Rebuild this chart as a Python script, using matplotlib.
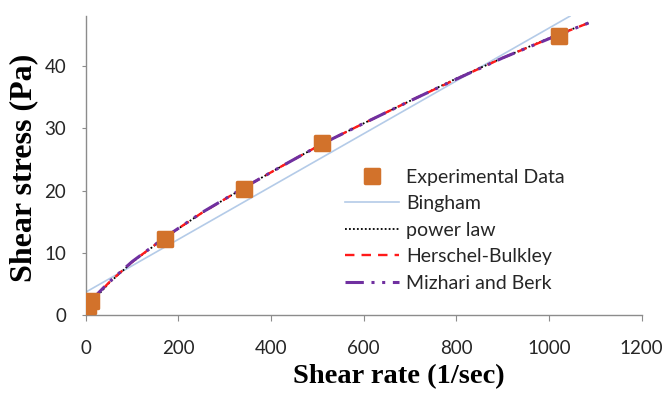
import matplotlib.pyplot as plt
from matplotlib.markers import MarkerStyle

# experimental points (Fann readings converted)
shear_rate = [5.11, 10.22, 170.3, 340.6, 510.9, 1021.8]
shear_stress = [1.5, 2.2, 12.3, 20.2, 27.6, 44.8]

# model curves
bingham_x = [0, 1045]
bingham_y = [3.7, 48.0]

curve_x = [12, 25, 50, 100, 170, 250, 340, 425, 510, 600, 700, 800, 900, 1020, 1085]
power_y = [2.3, 3.1, 5.15, 8.5, 12.4, 16.4, 20.4, 24.0, 27.5, 30.8, 34.4, 38.0, 41.3, 45.1, 46.9]
hb_y = [2.5, 3.3, 5.25, 8.55, 12.45, 16.4, 20.4, 24.0, 27.5, 30.8, 34.4, 37.9, 41.3, 45.0, 46.9]
mb_y = [2.6, 3.4, 5.3, 8.6, 12.45, 16.45, 20.4, 24.0, 27.5, 30.8, 34.4, 37.9, 41.3, 45.0, 46.9]

xticks = [0, 200, 400, 600, 800, 1000, 1200]
yticks = [0, 10, 20, 30, 40]

fig = plt.figure(figsize=(6.65, 3.94), dpi=100)
ax = fig.add_axes((0.129, 0.2, 0.836, 0.759))

ax.plot(bingham_x, bingham_y, color='#B4CBE8', lw=1.2, label='Bingham')
ax.plot(curve_x, power_y, color='black', lw=1.3, ls=(0, (1, 1.2)), label='power law')
ax.plot(curve_x, hb_y, color='#FF1A1A', lw=1.7, ls=(0, (4, 3)), label='Herschel-Bulkley')
ax.plot(curve_x, mb_y, color='#7030A0', lw=2.2, ls=(0, (6, 2.5, 1, 2.5, 1, 2.5)),
        label='Mizhari and Berk')
sq = MarkerStyle('s', joinstyle='round')
ax.plot(shear_rate, shear_stress, ls='none', marker=sq, ms=10, mew=2.5,
        color='#D2722B', mec='#D2722B', label='Experimental Data', zorder=5)

ax.set_xlim(0, 1200)
ax.set_ylim(0, 48)
ax.set_xticks(xticks)
ax.set_yticks(yticks)

for s in ['top', 'right']:
    ax.spines[s].set_visible(False)
for s in ['left', 'bottom']:
    ax.spines[s].set_color('#8C8C8C')
    ax.spines[s].set_linewidth(1)

ax.tick_params(axis='x', length=4, color='#8C8C8C', pad=14, labelsize=13.5)
ax.tick_params(axis='y', length=3, color='#8C8C8C', pad=11, labelsize=13.5)
for lab in ax.get_xticklabels() + ax.get_yticklabels():
    lab.set_fontfamily('Lato')
    lab.set_color('#262626')

ax.set_xlabel('Shear rate (1/sec)', fontfamily='Liberation Serif', fontweight='bold',
              fontsize=20.5)
ax.set_ylabel('Shear stress (Pa)', fontfamily='Liberation Serif', fontweight='bold',
              fontsize=23)
ax.xaxis.label.set_va('center')
ax.yaxis.label.set_va('center')
ax.xaxis.set_label_coords(0.563, -0.207)
ax.yaxis.set_label_coords(-0.1125, 0.493)

h, l = ax.get_legend_handles_labels()
order = [4, 0, 1, 2, 3]
leg = ax.legend([h[i] for i in order], [l[i] for i in order],
                loc='upper left', bbox_to_anchor=(0.466, 0.49), frameon=False,
                prop={'family': 'Lato', 'size': 14}, handlelength=2.8,
                handletextpad=0.36, labelspacing=0.49, borderaxespad=0, borderpad=0)
for t in leg.get_texts():
    t.set_color('#262626')

fig.savefig('out.png', dpi=100)
